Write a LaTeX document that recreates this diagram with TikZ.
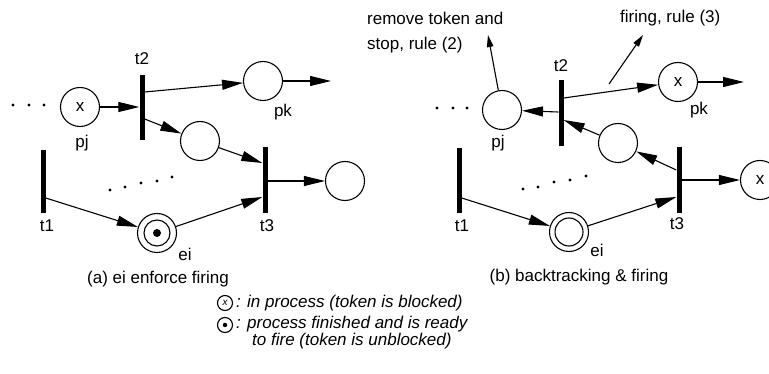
\documentclass[tikz,border=0pt]{standalone}
\usepackage{fontspec}
\setmainfont{Liberation Sans}
\usetikzlibrary{arrows.meta,calc}
\begin{document}
\begin{tikzpicture}[x=1pt,y=-1pt,
  every node/.style={font=\fontsize{17}{20}\selectfont},
  place/.style={circle,draw,line width=1.1pt,minimum size=39pt,inner sep=0pt},
  inner/.style={circle,draw,line width=1.1pt,minimum size=#1,inner sep=0pt},
  bar/.style={fill=black,draw=none,minimum width=5pt,inner sep=0pt},
  arc/.style={line width=1.1pt,-{Triangle[length=21pt,width=10pt]}},
  note/.style={line width=1.1pt,-{Triangle[length=12pt,width=6.5pt]}},
  lbl/.style={anchor=base,inner sep=0pt},
  txt/.style={anchor=base west,inner sep=0pt},
  dot/.style={circle,fill=black,inner sep=0pt,minimum size=3.2pt},
  token/.style={circle,fill=black,inner sep=0pt,minimum size=#1},
]
\useasboundingbox (0,0) rectangle (769,374);

% ---------------- (a) ei enforce firing ----------------
\node[dot] (la1) at (13,105) {};
\node[dot] (la2) at (29,105) {};
\node[dot] (la3) at (44,105) {};

\node[place] (pjL) at (80,107) {x};
\node[place] (pkL) at (263,81) {};
\node[place] (midL) at (200,141) {};
\node[place] (rL) at (345,181) {};
\node[place] (eiL) at (157,233) {};
\node[inner=26pt] (eiLin) at (157,233) {};
\node[token=8pt] (eiLtok) at (157,233) {};

\node[bar,minimum height=65pt] (t2L) at (142,107.5) {};
\node[bar,minimum height=66pt] (t3L) at (265,180) {};
\node[bar,minimum height=63pt] (t1L) at (43,181.5) {};

\coordinate (pkLout) at (331,81);

\draw[arc] (pjL) -- (t2L.west |- pjL);
\draw[arc] ([yshift=15.5pt]t2L.east) -- (pkL);
\draw[arc] ([yshift=-11.5pt]t2L.east) -- (midL);
\draw[arc] (midL) -- ([yshift=17pt]t3L.west);
\draw[arc] (t3L.east |- rL) -- (rL);
\draw[arc] (pkL) -- (pkLout);
\draw[arc] ([yshift=-16.5pt]t1L.east) -- (eiL);
\draw[arc] (eiL) -- ([yshift=-17pt]t3L.west);

\node[dot] (ma1) at (110,190) {};
\node[dot] (ma2) at (125,187) {};
\node[dot] (ma3) at (141,183) {};
\node[dot] (ma4) at (157,181) {};
\node[dot] (ma5) at (172,177) {};

\node[lbl] (t2La) at (142,65) {t2};
\node[lbl] (pjLa) at (82,148) {pj};
\node[lbl] (pkLa) at (283,117) {pk};
\node[lbl] (t1La) at (47,232) {t1};
\node[lbl] (t3La) at (267,232) {t3};
\node[lbl] (eiLa) at (185,261) {ei};
\node[lbl] (capA) at (158,284) {(a) ei enforce firing};

% ---------------- (b) backtracking & firing ----------------
\node[dot] (lb1) at (437,108) {};
\node[dot] (lb2) at (453,108) {};
\node[dot] (lb3) at (467,108) {};

\node[place] (pjR) at (502,110) {};
\node[place] (pkR) at (678,82) {x};
\node[place] (midR) at (618,143) {};
\node[place] (rR) at (760,180) {x};
\node[place] (eiR) at (569,232) {};
\node[inner=28pt] (eiRin) at (569,232) {};

\node[bar,minimum height=66pt] (t2R) at (561,113) {};
\node[bar,minimum height=66pt] (t3R) at (679,180) {};
\node[bar,minimum height=65pt] (t1R) at (459,180.5) {};

\coordinate (pkRout) at (744,82);
\coordinate (rmTip) at (488,35);
\coordinate (fireFrom) at (609,84);
\coordinate (fireTip) at (643,35);

\draw[arc] ([yshift=1pt]t2R.west) -- (pjR);
\draw[arc] ([yshift=15pt]t2R.east) -- (pkR);
\draw[arc] (midR) -- ([yshift=-7pt]t2R.east);
\draw[arc] ([yshift=10pt]t3R.west) -- (midR);
\draw[arc] (t3R.east |- rR) -- (rR);
\draw[arc] (pkR) -- (pkRout);
\draw[arc] ([yshift=-17.5pt]t1R.east) -- (eiR);
\draw[arc] (eiR) -- ([yshift=-17pt]t3R.west);
\draw[note] (pjR) -- (rmTip);
\draw[note] (fireFrom) -- (fireTip);

\node[dot] (mb1) at (523,189) {};
\node[dot] (mb2) at (538,187) {};
\node[dot] (mb3) at (554,182) {};
\node[dot] (mb4) at (570,180) {};
\node[dot] (mb5) at (586,176) {};

\node[txt] (rmA) at (367,25) {remove token and};
\node[txt] (rmB) at (367,50) {stop, rule (2)};
\node[txt] (fire) at (620,23) {firing, rule (3)};

\node[lbl] (t2Ra) at (561,72) {t2};
\node[lbl] (pjRa) at (498,148) {pj};
\node[lbl] (pkRa) at (699,115) {pk};
\node[lbl] (t1Ra) at (462,232) {t1};
\node[lbl] (t3Ra) at (677,230) {t3};
\node[lbl] (eiRa) at (597,257) {ei};
\node[lbl] (capB) at (579,282) {(b) backtracking \& firing};

% ---------------- legend ----------------
\node[inner=15pt] (kx) at (225,303) {\fontsize{10}{10}\selectfont\itshape x};
\node[inner=15pt] (kd) at (225,325) {};
\node[token=4.5pt] (kdtok) at (225,325) {};
\node[txt] (k1) at (236,308) {\itshape : in process (token is blocked)};
\node[txt] (k2) at (236,328) {\itshape : process finished and is ready};
\node[txt] (k3) at (252,345) {\itshape to fire (token is unblocked)};
\end{tikzpicture}
\end{document}
